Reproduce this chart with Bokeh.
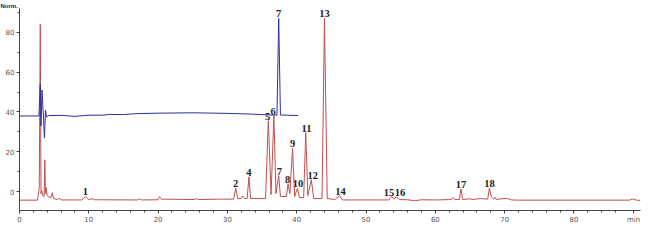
from bokeh.plotting import figure
from bokeh.models import ColumnDataSource, FixedTicker, SingleIntervalTicker, LabelSet
from bokeh.embed import file_html
from bokeh.resources import INLINE

# red trace (time in min, normalised signal)
red_time = [0, 2.6, 2.85, 3.0, 3.1, 3.2, 3.35, 3.55, 3.65, 3.75, 3.85, 4.0, 4.5, 4.75, 4.9, 5.5, 5.7, 6.0,
            9.0, 9.5, 10.0, 10.5, 10.8, 17.0, 17.3, 17.6, 20.0, 20.2, 20.5, 21.0, 25.3, 25.5, 25.8, 29.0,
            30.9, 31.2, 31.5, 32.0, 32.2, 32.5, 32.85, 33.1, 33.35, 35.5, 35.9, 36.3, 36.7, 37.0, 37.4, 37.65,
            38.5, 38.75, 39.0, 39.4, 39.7, 40.1, 40.4, 41.0, 41.3, 41.6, 42.1, 42.45, 43.65, 44.0, 44.4, 45.5,
            46.2, 46.6, 53.3, 53.7, 54.0, 54.4, 54.8, 56, 57, 58, 60, 62.3, 62.5, 62.8, 63.45, 63.7, 63.95,
            65, 65.3, 66.5, 67.55, 67.8, 68.1, 68.4, 68.6, 68.8, 69.5, 70.4, 71, 72, 88.0, 88.5, 89.0, 89.6]
red_signal = [-4.3, -4.3, 2.0, 84, -1, 0.5, -2, -2.5, 16, -1, 2, -2, -3.2, -0.5, -3.5, -4.0, -3.3, -4.2,
              -4.2, -2.3, -4.0, -3.6, -4.1, -4.2, -3.7, -4.2, -4.1, -2.6, -3.9, -3.8, -4.0, -3.5, -4.0, -3.8,
              -3.8, 1.7, -3.6, -3.3, -2.2, -3.5, -3.5, 7.4, -3.5, -3.5, 35.6, -1.5, 38, -1.0, 8, -2.5,
              -2.5, 4, -1.0, 21.7, -2.5, 1.7, -3.0, -3.0, 29.6, -2.0, 6, -3.5, -3.5, 87, -3.5, -4.0,
              -2.0, -4.2, -4.2, -2.5, -3.6, -2.6, -4.0, -4.1, -4.6, -4.1, -4.2, -4.0, -3.0, -4.0, -4.0, 1.3, -4.0,
              -3.6, -4.0, -3.5, -3.8, 1.7, -2.8, -3.8, -2.8, -4.0, -3.6, -3.5, -4.2, -4.3, -4.3, -3.7, -4.3, -4.4]

# blue trace
blue_time = [0, 2.8, 3.0, 3.1, 3.25, 3.45, 3.6, 3.75, 3.9, 4.2, 6, 8, 10, 12, 13, 15, 17, 20, 25, 30,
             33, 35.5, 37.15, 37.4, 37.65, 38.5, 40.2]
blue_signal = [38, 38, 54, 33, 51, 38, 27, 41, 37.5, 38.2, 38.3, 37.8, 38.4, 38.4, 38.8, 38.7, 39.2, 39.4,
               39.6, 39.3, 39.0, 38.6, 38.4, 87, 38.5, 38.4, 38.2]

# peak labels
peak_labels = ["1", "2", "4", "5", "6", "7", "8", "9", "10", "11", "12", "13", "14", "15", "16", "17", "18"]
peak_time = [9.5, 31.2, 33.1, 35.8, 36.6, 37.5, 38.7, 39.4, 40.2, 41.4, 42.3, 44.0, 46.3, 53.3, 54.9, 63.7, 67.8]
peak_top = [-2.3, 1.7, 7.4, 35.6, 38, 8, 4, 21.7, 1.7, 29.6, 6, 87, -2.0, -2.5, -2.6, 1.3, 1.7]
blue_labels = ["7"]
blue_label_time = [37.4]
blue_label_top = [87]

# axis ticks / unit texts
x_major_ticks = [0, 10, 20, 30, 40, 50, 60, 70, 80]
x_minor_ticks = [2, 4, 6, 8, 12, 14, 16, 18, 22, 24, 26, 28, 32, 34, 36, 38, 42, 44, 46, 48,
                 52, 54, 56, 58, 62, 64, 66, 68, 72, 74, 76, 78, 82, 84, 86]
x_unit_tick = 88.6
x_unit_label = "min"
y_unit_label = "Norm."

assert len(red_time) == len(red_signal)
assert len(blue_time) == len(blue_signal)

p = figure(width=642, height=226, x_range=(0, 89.6), y_range=(-9.5, 92),
           output_backend="svg", toolbar_location=None, title=y_unit_label,
           min_border_left=19, min_border_right=2, min_border_top=0, min_border_bottom=13)
p.title.text_font_size = "6px"
p.title.text_font = "Liberation Sans"
p.title.text_font_style = "bold"
p.title.text_color = "#222222"
p.title.align = "left"
p.title.offset = -19
p.title.standoff = 0
p.grid.visible = False
p.outline_line_color = None
p.background_fill_color = "white"

p.line(red_time, red_signal, line_color="#c24f4f", line_width=1.0)
p.line(blue_time, blue_signal, line_color="#2f2f9c", line_width=1.0)

font = "Liberation Serif"
lab_src = ColumnDataSource(dict(x=peak_time, y=peak_top, t=peak_labels))
p.add_layout(LabelSet(x="x", y="y", text="t", source=lab_src, text_font=font, text_font_style="bold",
                      text_font_size="10.5px", text_color="#222222", text_align="center",
                      text_baseline="bottom", y_offset=1))
blab_src = ColumnDataSource(dict(x=blue_label_time, y=blue_label_top, t=blue_labels))
p.add_layout(LabelSet(x="x", y="y", text="t", source=blab_src, text_font=font, text_font_style="bold",
                      text_font_size="10.5px", text_color="#222222", text_align="center",
                      text_baseline="bottom", y_offset=1))

for ax in (p.xaxis[0], p.yaxis[0]):
    ax.major_label_text_font_size = "7px"
    ax.major_label_text_color = "#555555"
    ax.major_label_text_font = "DejaVu Sans"
    ax.axis_line_color = "#444444"
    ax.major_tick_line_color = "#444444"
    ax.minor_tick_line_color = "#444444"
    ax.major_tick_in = 0
    ax.major_tick_out = 3
    ax.minor_tick_in = 0
    ax.minor_tick_out = 2
    ax.major_label_standoff = 2
p.xaxis.ticker = FixedTicker(ticks=x_major_ticks + [x_unit_tick], minor_ticks=x_minor_ticks)
p.xaxis.major_label_overrides = {x_unit_tick: x_unit_label}
p.yaxis.ticker = SingleIntervalTicker(interval=20, num_minor_ticks=2)

open("out.html", "w").write(file_html(p, INLINE))
